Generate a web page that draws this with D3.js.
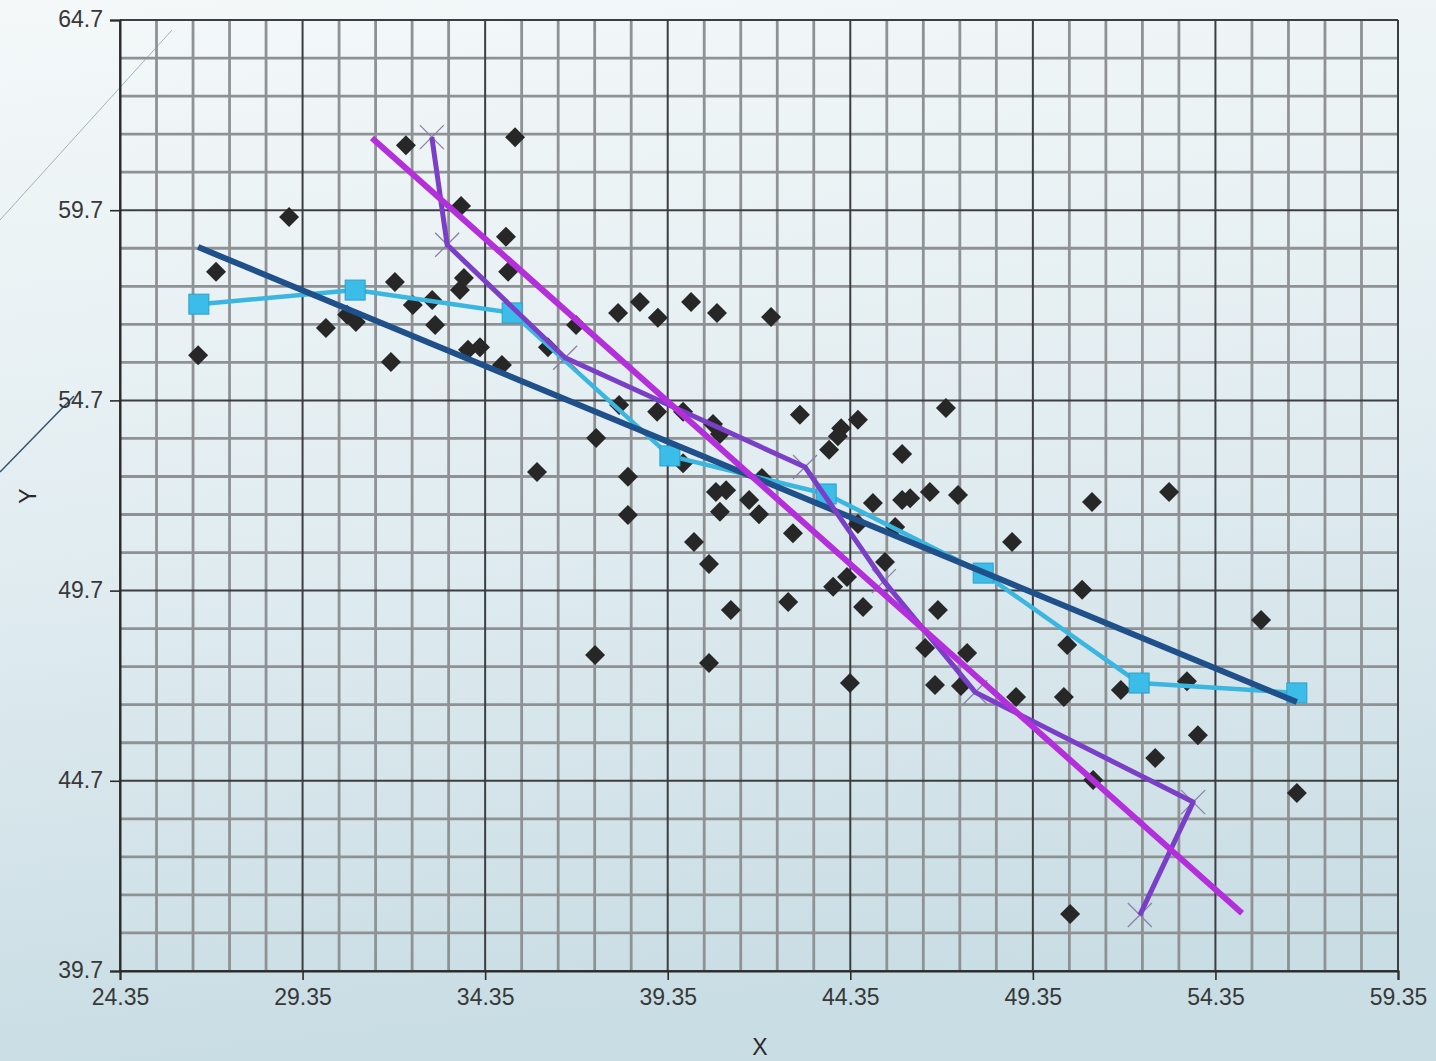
<!DOCTYPE html>
<html>
<head>
<meta charset="utf-8">
<script src="https://cdn.jsdelivr.net/npm/d3@7"></script>
<style>
  html, body { margin: 0; padding: 0; }
  body { width: 1436px; height: 1061px; overflow: hidden; }
</style>
</head>
<body>
<div id="graph"></div>
<script>
// tick labels
const xTicks = [24.35, 29.35, 34.35, 39.35, 44.35, 49.35, 54.35, 59.35]
const yTicks = [39.7, 44.7, 49.7, 54.7, 59.7, 64.7]

// scatter points
const pointX = [32.18, 35.17, 28.98, 26.98, 26.49, 33.69, 34.92, 31.88, 32.37, 32.90,
  34.98, 33.77, 33.66, 29.99, 30.57, 30.81, 32.98, 31.77, 33.88, 34.21,
  34.81, 36.84, 36.07, 37.99, 38.59, 39.08, 39.99, 40.70, 42.18, 37.39,
  38.02, 39.06, 35.77, 38.26, 38.26, 39.77, 39.77, 40.59, 40.78, 42.97,
  44.10, 44.56, 44.01, 43.77, 46.97, 45.77, 40.67, 40.95, 40.78, 41.58,
  41.85, 41.93, 40.07, 40.48, 41.08, 37.36, 40.48, 42.78, 42.65, 43.88,
  44.26, 44.70, 44.34, 44.97, 44.56, 45.30, 45.77, 45.99, 46.53, 47.30,
  45.58, 46.75, 46.40, 47.55, 46.67, 47.38, 48.78, 48.89, 50.97, 50.70,
  50.29, 50.20, 51.00, 53.08, 51.76, 53.57, 52.70, 53.87, 55.60, 56.58,
  50.37]
const pointY = [61.41, 61.62, 59.52, 58.08, 55.89, 59.81, 59.00, 57.81, 57.21, 57.34,
  58.08, 57.92, 57.60, 56.60, 56.95, 56.76, 56.68, 55.71, 56.03, 56.10,
  55.63, 56.68, 56.10, 57.00, 57.29, 56.87, 57.29, 57.00, 56.89, 53.71,
  54.58, 54.40, 52.82, 52.69, 51.69, 53.05, 54.40, 54.08, 53.82, 54.32,
  53.97, 54.19, 53.76, 53.40, 54.50, 53.29, 52.29, 52.34, 51.77, 52.08,
  51.71, 52.66, 50.98, 50.40, 49.19, 48.01, 47.80, 51.21, 49.40, 49.80,
  50.06, 49.27, 47.27, 52.00, 51.45, 50.45, 52.08, 52.13, 52.29, 52.21,
  51.37, 49.19, 48.19, 48.06, 47.22, 47.19, 50.98, 46.90, 52.03, 49.72,
  48.27, 46.90, 44.72, 52.29, 47.09, 47.32, 45.30, 45.90, 48.93, 44.38,
  41.20]

// fitted line of Y on X
const fitX = [26.49, 56.58]
const fitY = [58.73, 46.77]

// fitted line of X on Y
const fit2X = [31.25, 55.08]
const fit2Y = [61.60, 41.22]

// group means along X
const meanX = [26.51, 30.79, 35.09, 39.41, 43.69, 47.99, 52.26, 56.58]
const meanY = [57.23, 57.60, 57.00, 53.24, 52.24, 50.16, 47.27, 47.01]

// group means along Y
const mean2X = [32.89, 33.31, 36.54, 43.11, 45.27, 47.77, 53.74, 52.28]
const mean2Y = [61.62, 58.79, 55.82, 52.95, 49.95, 47.03, 44.14, 41.17]

const width = 1436
const height = 1061
const font = "'Liberation Sans', Arial, sans-serif"

var svg = d3.select("#graph")
  .append("svg")
  .attr("width", width)
  .attr("height", height)

// background
let defs = svg.append("defs")
let grad = defs.append("linearGradient").attr("id", "bg")
  .attr("x1", "0").attr("y1", "0").attr("x2", "0.15").attr("y2", "1")
grad.append("stop").attr("offset", "0").attr("stop-color", "#f4f8f9")
grad.append("stop").attr("offset", "0.5").attr("stop-color", "#e2edf1")
grad.append("stop").attr("offset", "1").attr("stop-color", "#c9dde4")
svg.append("rect").attr("width", width).attr("height", height).attr("fill", "url(#bg)")

// decorative strokes at the left edge
svg.append("line").attr("x1", 0).attr("y1", 220).attr("x2", 172).attr("y2", 30)
  .attr("stroke", "#9fb4bd").attr("stroke-width", 1)
svg.append("line").attr("x1", 0).attr("y1", 472).attr("x2", 74).attr("y2", 396)
  .attr("stroke", "#2d5670").attr("stroke-width", 1.5)

let x = d3.scaleLinear().domain([24.35, 59.35]).range([120, 1398])
let y = d3.scaleLinear().domain([39.7, 64.7]).range([971, 20])

// minor grid
let g = svg.append("g")
d3.range(25.35, 59.35, 1).forEach(v => {
  if (xTicks.some(t => Math.abs(t - v) < 0.01)) return
  g.append("line").attr("x1", x(v)).attr("x2", x(v)).attr("y1", y(64.7)).attr("y2", y(39.7))
    .attr("stroke", "#8e9294").attr("stroke-width", 2.8)
})
d3.range(40.7, 64.7, 1).forEach(v => {
  if (yTicks.some(t => Math.abs(t - v) < 0.01)) return
  g.append("line").attr("x1", x(24.35)).attr("x2", x(59.35)).attr("y1", y(v)).attr("y2", y(v))
    .attr("stroke", "#8e9294").attr("stroke-width", 2.8)
})
// major grid
xTicks.forEach(v => {
  g.append("line").attr("x1", x(v)).attr("x2", x(v)).attr("y1", y(64.7)).attr("y2", y(39.7))
    .attr("stroke", "#3c3f41").attr("stroke-width", 2)
})
yTicks.forEach(v => {
  g.append("line").attr("x1", x(24.35)).attr("x2", x(59.35)).attr("y1", y(v)).attr("y2", y(v))
    .attr("stroke", "#3c3f41").attr("stroke-width", 2)
})

// axes
let xAxis = svg.append("g").attr("transform", "translate(0," + y(39.7) + ")")
  .call(d3.axisBottom(x).tickValues(xTicks).tickFormat(d3.format(".2f")).tickSize(9).tickPadding(9))
let yAxis = svg.append("g").attr("transform", "translate(" + x(24.35) + ",0)")
  .call(d3.axisLeft(y).tickValues(yTicks).tickFormat(d3.format(".1f")).tickSize(10).tickPadding(7))
;[xAxis, yAxis].forEach(a => {
  a.attr("font-size", 23).attr("font-family", font)
  a.select(".domain").attr("stroke", "#2b2b2b").attr("stroke-width", 2)
  a.selectAll(".tick line").attr("stroke", "#2b2b2b").attr("stroke-width", 1.6)
  a.selectAll(".tick text").attr("fill", "#383838")
})
yAxis.selectAll(".tick text").attr("dy", "0.3em")

svg.append("text").attr("x", 760).attr("y", 1055).attr("text-anchor", "middle")
  .attr("font-family", font).attr("font-size", 23)
  .attr("fill", "#2a2a2a").text("X")
svg.append("text").attr("transform", "translate(36,496) rotate(-90)").attr("text-anchor", "middle")
  .attr("font-family", font).attr("font-size", 23)
  .attr("fill", "#2a2a2a").text("Y")

// scatter
let points = pointX.map((v, i) => ({ x: v, y: pointY[i] }))
svg.append("g").selectAll("path").data(points).enter().append("path")
  .attr("d", d3.symbol().type(d3.symbolSquare).size(200))
  .attr("transform", d => "translate(" + x(d.x) + "," + y(d.y) + ") rotate(45)")
  .attr("fill", "#272727")

let line = d3.line().x(d => x(d.x)).y(d => y(d.y))

// means along X (cyan, squares)
let means = meanX.map((v, i) => ({ x: v, y: meanY[i] }))
svg.append("path").datum(means).attr("fill", "none").attr("stroke", "#3ab6e0")
  .attr("stroke-width", 4.5).attr("stroke-linejoin", "round").attr("d", line)
svg.append("g").selectAll("rect").data(means).enter().append("rect")
  .attr("x", d => x(d.x) - 10).attr("y", d => y(d.y) - 10).attr("width", 20).attr("height", 20)
  .attr("fill", "#3cbde9").attr("stroke", "#2b9fca").attr("stroke-width", 1)

// fitted Y on X (navy)
let fit = fitX.map((v, i) => ({ x: v, y: fitY[i] }))
svg.append("path").datum(fit).attr("fill", "none").attr("stroke", "#20508a")
  .attr("stroke-width", 6).attr("d", line)

// means along Y (purple, crosses)
let means2 = mean2X.map((v, i) => ({ x: v, y: mean2Y[i] }))
svg.append("g").selectAll("path").data(means2).enter().append("path")
  .attr("d", "M-12,-12L12,12M-12,12L12,-12")
  .attr("transform", d => "translate(" + x(d.x) + "," + y(d.y) + ")")
  .attr("stroke", "#8a80a6").attr("stroke-width", 1.3).attr("fill", "none")
svg.append("path").datum(means2).attr("fill", "none").attr("stroke", "#7a3fc6")
  .attr("stroke-width", 5).attr("stroke-linejoin", "round").attr("d", line)

// fitted X on Y (magenta)
let fit2 = fit2X.map((v, i) => ({ x: v, y: fit2Y[i] }))
svg.append("path").datum(fit2).attr("fill", "none").attr("stroke", "#b42fdc")
  .attr("stroke-width", 6).attr("d", line)
</script>
</body>
</html>
